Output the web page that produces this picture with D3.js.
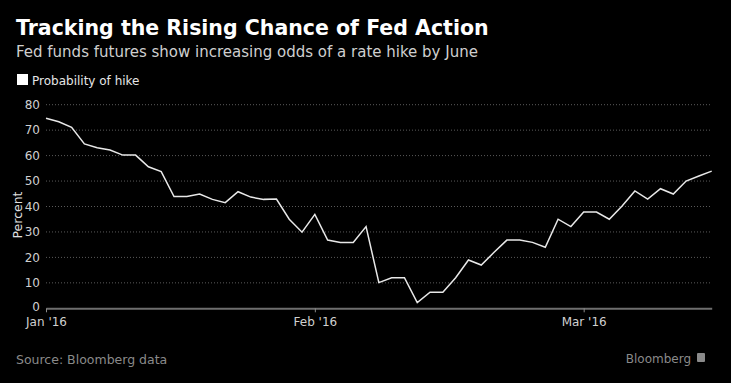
<!DOCTYPE html>
<html>
<head>
<meta charset="utf-8">
<script src="https://cdn.jsdelivr.net/npm/d3@7"></script>
<style>
  html, body { margin: 0; padding: 0; background: #000; }
  svg { display: block; }
  text { font-family: "DejaVu Sans", sans-serif; }
</style>
</head>
<body>
<script>
// weekdays, Jan 1 - Mar 15 2016
var dates = [
  "2016-01-01","2016-01-04","2016-01-05","2016-01-06","2016-01-07","2016-01-08",
  "2016-01-11","2016-01-12","2016-01-13","2016-01-14","2016-01-15",
  "2016-01-18","2016-01-19","2016-01-20","2016-01-21","2016-01-22",
  "2016-01-25","2016-01-26","2016-01-27","2016-01-28","2016-01-29",
  "2016-02-01","2016-02-02","2016-02-03","2016-02-04","2016-02-05",
  "2016-02-08","2016-02-09","2016-02-10","2016-02-11","2016-02-12",
  "2016-02-15","2016-02-16","2016-02-17","2016-02-18","2016-02-19",
  "2016-02-22","2016-02-23","2016-02-24","2016-02-25","2016-02-26",
  "2016-02-29","2016-03-01","2016-03-02","2016-03-03","2016-03-04",
  "2016-03-07","2016-03-08","2016-03-09","2016-03-10","2016-03-11",
  "2016-03-14","2016-03-15"
];
var probability = [
  74.7, 73.3, 71.1, 64.6, 63.1, 62.2,
  60.2, 60.2, 55.6, 53.7, 43.9,
  43.9, 44.9, 42.8, 41.5, 45.8,
  43.7, 42.8, 42.9, 35.0, 29.9,
  36.9, 26.8, 25.9, 25.9, 32.1,
  10.1, 12.0, 12.0, 2.2, 6.3,
  6.3, 12.0, 19.0, 17.0, 22.0,
  26.8, 26.8, 25.9, 24.0, 35.0,
  32.1, 37.8, 37.8, 35.0, 40.2,
  46.1, 42.9, 47.0, 44.9, 50.0,
  52.0, 53.9
];
var yTicks = [0, 10, 20, 30, 40, 50, 60, 70, 80];
var xTicks = ["2016-01-01", "2016-02-01", "2016-03-01"];
var xTickLabels = ["Jan '16", "Feb '16", "Mar '16"];

var W = 731, H = 383;
var svg = d3.select("body").append("svg")
  .attr("width", W)
  .attr("height", H);

svg.append("rect").attr("width", W).attr("height", H).attr("fill", "#000");

// titles
svg.append("text")
  .attr("x", 16).attr("y", 35)
  .attr("fill", "#fff")
  .attr("font-size", 20.5)
  .attr("font-weight", "bold")
  .text("Tracking the Rising Chance of Fed Action");

svg.append("text")
  .attr("x", 16).attr("y", 57)
  .attr("fill", "#cfcfcf")
  .attr("font-size", 15)
  .text("Fed funds futures show increasing odds of a rate hike by June");

// legend
svg.append("rect")
  .attr("x", 17).attr("y", 74)
  .attr("width", 11).attr("height", 11)
  .attr("fill", "#fff");
svg.append("text")
  .attr("x", 32).attr("y", 84.5)
  .attr("fill", "#e6e6e6")
  .attr("font-size", 12)
  .text("Probability of hike");

// scales
var x = d3.scalePoint().domain(dates).range([46, 711.7]);
var y = d3.scaleLinear().domain([0, 80]).range([308.3, 104.7]);

// grid
svg.append("g")
  .selectAll("line")
  .data(yTicks.filter(function(d) { return d > 0; }))
  .join("line")
  .attr("x1", 46).attr("x2", 711.7)
  .attr("y1", function(d) { return y(d); })
  .attr("y2", function(d) { return y(d); })
  .attr("stroke", "#5a5a5a")
  .attr("stroke-width", 1)
  .attr("stroke-dasharray", "1,2");

// y axis labels
var yAxis = svg.append("g")
  .attr("transform", "translate(46,0)")
  .call(d3.axisLeft(y).tickValues(yTicks).tickSize(0).tickPadding(6));
yAxis.select(".domain").remove();
yAxis.selectAll("text")
  .attr("fill", "#d0d0d0")
  .attr("font-size", 12)
  .attr("font-family", "DejaVu Sans, sans-serif")
  .attr("dy", function(d) { return d === 0 ? "0.15em" : "0.32em"; });

svg.append("text")
  .attr("transform", "translate(22,215) rotate(-90)")
  .attr("text-anchor", "middle")
  .attr("fill", "#e0e0e0")
  .attr("font-size", 12.5)
  .text("Percent");

// x axis
var xAxis = svg.append("g")
  .attr("transform", "translate(0,308.3)")
  .call(d3.axisBottom(x)
    .tickValues(xTicks)
    .tickSize(4)
    .tickSizeOuter(0)
    .tickPadding(5)
    .tickFormat(function(d, i) { return xTickLabels[i]; }));
xAxis.select(".domain")
  .attr("stroke", "#6e6e6e")
  .attr("stroke-width", 2);
xAxis.selectAll(".tick line").attr("stroke", "#8a8a8a");
xAxis.selectAll("text")
  .attr("fill", "#d0d0d0")
  .attr("font-size", 12)
  .attr("font-family", "DejaVu Sans, sans-serif");

// line
var line = d3.line()
  .x(function(d, i) { return x(dates[i]); })
  .y(function(d) { return y(d); });

svg.append("path")
  .datum(probability)
  .attr("d", line)
  .attr("fill", "none")
  .attr("stroke", "#e8e8e8")
  .attr("stroke-width", 1.5)
  .attr("stroke-linejoin", "miter");

// footer
svg.append("text")
  .attr("x", 16).attr("y", 364)
  .attr("fill", "#8a8a8a")
  .attr("font-size", 12.5)
  .text("Source: Bloomberg data");

svg.append("text")
  .attr("x", 691).attr("y", 363)
  .attr("text-anchor", "end")
  .attr("fill", "#8a8a8a")
  .attr("font-size", 12)
  .text("Bloomberg");
svg.append("rect")
  .attr("x", 697).attr("y", 353)
  .attr("width", 8).attr("height", 9)
  .attr("rx", 1)
  .attr("fill", "#8a8a8a");
</script>
</body>
</html>
